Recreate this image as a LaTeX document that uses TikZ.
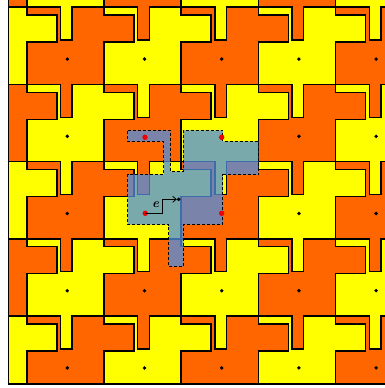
\documentclass[tikz,border=0pt]{standalone}
\usetikzlibrary{arrows.meta}
\definecolor{tor}{RGB}{255,102,0}
\definecolor{tye}{RGB}{255,255,0}
\definecolor{ovl}{RGB}{81,142,226}
\definecolor{rdot}{RGB}{240,0,0}
\begin{document}
\begin{tikzpicture}[x=1pt,y=-1pt,
  tileedge/.style={draw=black,line width=1.5pt,line join=miter},
  cdot/.style={fill=black,draw=none},
  reddot/.style={fill=rdot,draw=none},
  ovfill/.style={fill=ovl,fill opacity=0.76,draw=none},
  ovedge/.style={draw=black,line width=0.9pt,dash pattern=on 3pt off 2pt},
  evec/.style={draw=black,line width=0.8pt,-{Straight Barb[length=3.5pt,width=6pt]}}]
\useasboundingbox (0,0) rectangle (385,388);
\begin{scope}
\clip (8.3,-5) rectangle (392,384);
\foreach \i in {-1,...,5}{\foreach \j in {-1,...,5}{
  \pgfmathsetmacro\cx{67.3+77.2*\i}
  \pgfmathsetmacro\cy{59.1+77.2*\j}
  \pgfmathtruncatemacro\pp{mod(\i+\j+10,2)}
  \ifnum\pp=0 \def\tc{tor}\else\def\tc{tye}\fi
  \begin{scope}[shift={(\cx,\cy)}]
  \path[tileedge,fill=\tc] (-40.5,-51.9) -- (-6.8,-51.9) -- (-6.8,-19) -- (4.8,-19) -- (4.8,-51.9)
    -- (36.7,-51.9) -- (36.7,-44) -- (66.7,-44) -- (66.7,-17) -- (36.7,-17) -- (36.7,25.3)
    -- (4.8,25.3) -- (4.8,58.2) -- (-6.8,58.2) -- (-6.8,25.3) -- (-40.5,25.3) -- (-40.5,-17)
    -- (-10.5,-17) -- (-10.5,-44) -- (-40.5,-44) -- cycle;
  \end{scope}
}}
\foreach \i in {-1,...,5}{\foreach \j in {-1,...,5}{
  \pgfmathsetmacro\cx{67.3+77.2*\i}
  \pgfmathsetmacro\cy{59.1+77.2*\j}
  \fill[cdot] (\cx,\cy) circle (1.9);
}}
\end{scope}
\draw[line width=1.3pt] (8.3,-5) rectangle (392,384);
% overlay
\path[ovfill] (127.6,130.3) -- (170.3,130.3) -- (170.3,171.3) -- (183.3,171.3) -- (183.3,130.3)
  -- (222.8,130.3) -- (222.8,141.3) -- (258.3,141.3) -- (258.3,174.8) -- (222.8,174.8)
  -- (222.8,224.5) -- (183.7,224.5) -- (183.7,266.7) -- (168.9,266.7) -- (168.9,224.5)
  -- (127.6,224.5) -- (127.6,174.3) -- (163.9,174.3) -- (163.9,141.7) -- (127.6,141.7) -- cycle;
\path[ovedge] (127.6,130.3) -- (170.3,130.3) -- (170.3,171.3) -- (183.3,171.3) -- (183.3,130.3)
  -- (222.8,130.3) -- (222.8,141.3) -- (258.3,141.3) -- (258.3,174.8) -- (222.8,174.8)
  -- (222.8,224.5) -- (183.7,224.5) -- (183.7,266.7) -- (168.9,266.7) -- (168.9,224.5)
  -- (127.6,224.5) -- (127.6,174.3) -- (163.9,174.3) -- (163.9,141.7) -- (127.6,141.7) -- cycle;
% red dots
\coordinate (r1) at (145,137.3);
\coordinate (r2) at (221.7,137.3);
\coordinate (r3) at (145.3,213.3);
\coordinate (r4) at (221.7,213.3);
\coordinate (bend1) at (162,213.3);
\coordinate (bend2) at (162,199.3);
\coordinate (tip) at (176.8,199.3);
\coordinate (edot) at (178.7,199.3);
\foreach \r in {r1,r2,r3,r4}{\fill[reddot] (\r) circle (2.7);}
\draw[evec] (r3) -- (bend1) -- (bend2) -- (tip);
\fill[cdot] (edot) circle (1.9);
\node (elab) at (155.7,204.2) {\fontsize{13}{13}\selectfont\bfseries\itshape e};
\end{tikzpicture}
\end{document}
